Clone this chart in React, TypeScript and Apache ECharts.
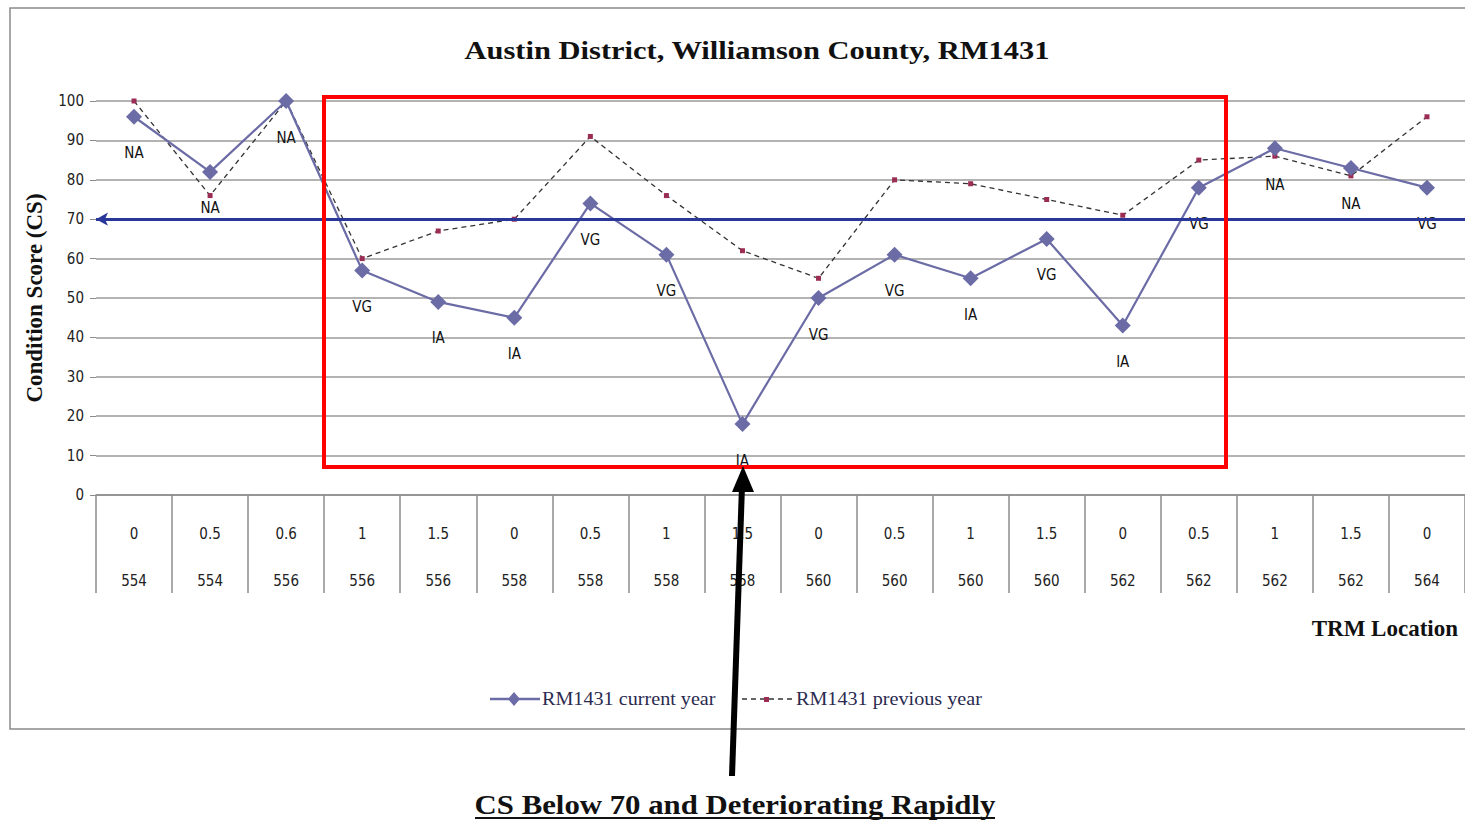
import React, { useEffect, useRef } from "react";
import * as echarts from "echarts";

const trmOffset = ["0", "0.5", "0.6", "1", "1.5", "0", "0.5", "1", "1.5", "0", "0.5", "1", "1.5", "0", "0.5", "1", "1.5", "0"];
const trmMarker = ["554", "554", "556", "556", "556", "558", "558", "558", "558", "560", "560", "560", "560", "562", "562", "562", "562", "564"];
const currentYear = [96, 82, 100, 57, 49, 45, 74, 61, 18, 50, 61, 55, 65, 43, 78, 88, 83, 78];
const previousYear = [100, 76, 100, 60, 67, 70, 91, 76, 62, 55, 80, 79, 75, 71, 85, 86, 81, 96];
const ratingLabels = ["NA", "NA", "NA", "VG", "IA", "IA", "VG", "VG", "IA", "VG", "VG", "IA", "VG", "IA", "VG", "NA", "NA", "VG"];
const seriesNames = ["RM1431 current year", "RM1431 previous year"];
const thresholdValue = 70;

const categories = trmOffset.map((o, i) => `${o}|${trmMarker[i]}`);

export default function App() {
  const ref = useRef<HTMLDivElement>(null);
  useEffect(() => {
    if (!ref.current) return;
    const chart = echarts.init(ref.current, null, { renderer: "svg" });
    const serif = "'Liberation Serif', 'DejaVu Serif', serif";
    const cond = "'DejaVu Sans Condensed', 'DejaVu Sans', sans-serif";
    const curColor = "#6b6ba6";
    const prevMarker = "#9b2d55";
    chart.setOption({
      animation: false,
      backgroundColor: "#ffffff",
      grid: { left: 96, right: -3, top: 101, bottom: 325, containLabel: false },
      xAxis: {
        type: "category",
        data: categories,
        boundaryGap: true,
        axisLine: { lineStyle: { color: "#8c8c8c", width: 1.5 } },
        axisTick: { show: true, length: 98, alignWithLabel: false, lineStyle: { color: "#8c8c8c", width: 1.5 } },
        axisLabel: {
          interval: 0,
          margin: 27,
          fontFamily: cond,
          fontSize: 15,
          color: "#222",
          lineHeight: 23.5,
          formatter: (v: string) => {
            const [a, b] = v.split("|");
            return `${a}\n\n${b}`;
          },
        },
      },
      yAxis: {
        type: "value",
        min: 0,
        max: 100,
        interval: 10,
        name: "Condition Score (CS)",
        nameLocation: "middle",
        nameGap: 50,
        nameTextStyle: { fontFamily: serif, fontWeight: "bold", fontSize: 23, color: "#111" },
        axisLine: { show: false },
        axisTick: { show: true, length: 6, lineStyle: { color: "#8c8c8c" } },
        axisLabel: { fontFamily: cond, fontSize: 15, color: "#222", margin: 12 },
        splitLine: { lineStyle: { color: "#9a9a9a", width: 1.5 } },
      },
      series: [
        {
          name: seriesNames[1],
          type: "line",
          data: previousYear,
          symbol: "rect",
          symbolSize: 5,
          itemStyle: { color: prevMarker },
          lineStyle: { color: "#333", width: 1.3, type: [5, 4] },
          z: 3,
        },
        {
          name: seriesNames[0],
          type: "line",
          data: currentYear,
          symbol: "diamond",
          symbolSize: 16,
          itemStyle: { color: curColor },
          lineStyle: { color: curColor, width: 2.2 },
          z: 4,
          label: {
            show: true,
            position: "bottom",
            distance: 21,
            fontFamily: cond,
            fontSize: 15,
            color: "#111",
            formatter: (p: any) => ratingLabels[p.dataIndex],
          },
          markLine: {
            silent: true,
            symbol: ["arrow", "none"],
            symbolSize: [10, 12],
            label: { show: false },
            lineStyle: { color: "#2a379a", width: 3, type: "solid" },
            data: [{ yAxis: thresholdValue }],
          },
        },
      ],
      graphic: [
        {
          type: "rect",
          shape: { x: 10, y: 8, width: 1470, height: 721 },
          style: { fill: "none", stroke: "#8a8a8a", lineWidth: 1.5 },
          z: 0,
        },
        {
          type: "text",
          x: 757,
          y: 50,
          scaleX: 1.22,
          style: {
            text: "Austin District, Williamson County, RM1431",
            fontFamily: serif,
            fontWeight: "bold",
            fontSize: 25,
            fill: "#111",
            align: "center",
            verticalAlign: "middle",
          },
        },
        {
          type: "rect",
          shape: { x: 324, y: 97, width: 902, height: 370 },
          style: { fill: "none", stroke: "#ff0000", lineWidth: 4 },
          z: 10,
        },
        {
          type: "text",
          x: 1458,
          y: 628,
          style: {
            text: "TRM Location",
            fontFamily: serif,
            fontWeight: "bold",
            fontSize: 23,
            fill: "#111",
            align: "right",
            verticalAlign: "middle",
          },
        },
        // legend (drawn manually to match line/marker look)
        {
          type: "line",
          shape: { x1: 490, y1: 699, x2: 540, y2: 699 },
          style: { stroke: curColor, lineWidth: 2.5 },
        },
        {
          type: "polygon",
          shape: { points: [[514, 692], [520, 699], [514, 706], [508, 699]] },
          style: { fill: curColor },
        },
        {
          type: "text",
          x: 542,
          y: 699,
          scaleX: 1.12,
          style: {
            text: seriesNames[0],
            fontFamily: serif,
            fontSize: 18,
            fill: "#2a2a50",
            align: "left",
            verticalAlign: "middle",
          },
        },
        {
          type: "line",
          shape: { x1: 742, y1: 699, x2: 792, y2: 699 },
          style: { stroke: "#333", lineWidth: 1.3, lineDash: [5, 4] },
        },
        {
          type: "rect",
          shape: { x: 764, y: 697, width: 5, height: 5 },
          style: { fill: prevMarker },
        },
        {
          type: "text",
          x: 796,
          y: 699,
          scaleX: 1.12,
          style: {
            text: seriesNames[1],
            fontFamily: serif,
            fontSize: 18,
            fill: "#2a2a50",
            align: "left",
            verticalAlign: "middle",
          },
        },
        {
          type: "line",
          shape: { x1: 732, y1: 776, x2: 742, y2: 486 },
          style: { stroke: "#000", lineWidth: 6 },
          z: 11,
        },
        {
          type: "polygon",
          shape: { points: [[743, 466], [732, 492], [754, 492]] },
          style: { fill: "#000" },
          z: 11,
        },
        {
          type: "text",
          x: 735,
          y: 804,
          scaleX: 1.1,
          style: {
            text: "CS Below 70 and Deteriorating Rapidly",
            fontFamily: serif,
            fontWeight: "bold",
            fontSize: 28,
            fill: "#111",
            align: "center",
            verticalAlign: "middle",
          },
        },
        {
          type: "line",
          shape: { x1: 475, y1: 818, x2: 995, y2: 818 },
          style: { stroke: "#111", lineWidth: 2 },
        },
      ],
    });
    return () => chart.dispose();
  }, []);
  return (
    <div
      ref={ref}
      style={{ position: "absolute", left: 0, top: 0, width: 1465, height: 820, background: "#fff" }}
    />
  );
}
